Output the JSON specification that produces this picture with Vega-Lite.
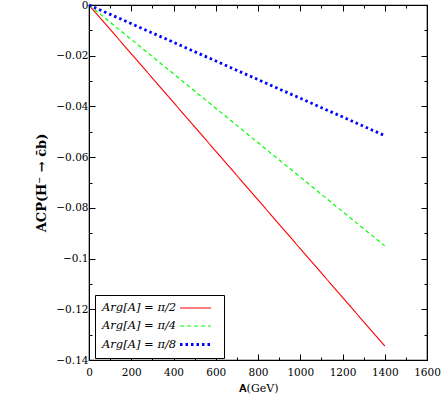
{
  "$schema": "https://vega.github.io/schema/vega-lite/v6.json",
  "width": 338,
  "height": 355,
  "autosize": "none",
  "padding": {"left": 89, "top": 5, "right": 16, "bottom": 36},
  "background": "white",
  "config": {
    "view": {"stroke": "black", "strokeWidth": 1.2},
    "font": "DejaVu Serif"
  },
  "data": {
    "values": [
      {"A": 0, "Acp": 0, "s": "Arg[A] = π/2"},
      {"A": 1400, "Acp": -0.1345, "s": "Arg[A] = π/2"},
      {"A": 0, "Acp": 0, "s": "Arg[A] = π/4"},
      {"A": 1400, "Acp": -0.095, "s": "Arg[A] = π/4"},
      {"A": 0, "Acp": 0, "s": "Arg[A] = π/8"},
      {"A": 1400, "Acp": -0.0515, "s": "Arg[A] = π/8"}
    ]
  },
  "layer": [
    {
      "mark": {"type": "line", "strokeCap": "butt"},
      "encoding": {
        "x": {
          "field": "A", "type": "quantitative",
          "scale": {"domain": [0, 1600], "nice": false, "zero": false},
          "axis": {
            "orient": "bottom",
            "values": [0,100,200,300,400,500,600,700,800,900,1000,1100,1200,1300,1400,1500,1600],
            "format": "d",
            "labelExpr": "datum.value % 200 === 0 ? datum.label : ''",
            "tickSize": {"condition": {"test": "datum.value % 200 === 0", "value": -6}, "value": -3},
            "grid": false,
            "domainColor": "black", "tickColor": "black", "tickWidth": 1,
            "labelFont": "DejaVu Serif", "labelFontSize": 10.5, "labelColor": "black",
            "labelPadding": 13, "labelFlush": false, "labelOverlap": false,
            "title": "𝐀(GeV)",
            "titleFont": "DejaVu Serif", "titleFontWeight": "normal", "titleFontSize": 11,
            "titleColor": "black", "titlePadding": 2
          }
        },
        "y": {
          "field": "Acp", "type": "quantitative",
          "scale": {"domain": [-0.14, 0], "nice": false, "zero": false},
          "axis": {
            "orient": "left",
            "values": [-0.14,-0.13,-0.12,-0.11,-0.1,-0.09,-0.08,-0.07,-0.06,-0.05,-0.04,-0.03,-0.02,-0.01,0],
            "format": ".2~f",
            "labelExpr": "abs(round(datum.value*100)) % 2 === 0 ? datum.label : ''",
            "tickSize": {"condition": {"test": "abs(round(datum.value*100)) % 2 === 0", "value": -6}, "value": -3},
            "grid": false,
            "domainColor": "black", "tickColor": "black", "tickWidth": 1,
            "labelFont": "DejaVu Serif", "labelFontSize": 10.5, "labelColor": "black",
            "labelPadding": 7, "labelFlush": false, "labelOverlap": false,
            "title": "ACP(H⁻ → c̄b)",
            "titleFont": "DejaVu Serif", "titleFontWeight": "bold", "titleFontSize": 13,
            "titleColor": "black", "titlePadding": 7
          }
        },
        "color": {
          "field": "s", "type": "ordinal",
          "scale": {"domain": ["Arg[A] = π/2", "Arg[A] = π/4", "Arg[A] = π/8"], "range": ["#ff0000", "#00ff00", "#0000ff"]},
          "legend": {
            "orient": "none", "legendX": 6, "legendY": 290,
            "title": null,
            "strokeColor": "black", "fillColor": "white", "padding": 7,
            "symbolType": "M-3.1,0H3.1", "symbolSize": 100, "symbolOffset": 87,
            "labelOffset": -100,
            "labelFont": "DejaVu Serif", "labelFontStyle": "italic", "labelFontSize": 11.5,
            "labelColor": "black", "rowPadding": 6
          }
        },
        "strokeDash": {
          "field": "s", "type": "ordinal",
          "scale": {"domain": ["Arg[A] = π/2", "Arg[A] = π/4", "Arg[A] = π/8"], "range": [[1, 0], [4, 3], [2.5, 3]]}
        },
        "strokeWidth": {
          "field": "s", "type": "ordinal",
          "scale": {"type": "ordinal", "domain": ["Arg[A] = π/2", "Arg[A] = π/4", "Arg[A] = π/8"], "range": [1.1, 1.2, 2.8]}
        }
      }
    },
    {
      "mark": {"type": "line", "opacity": 0},
      "encoding": {
        "x": {
          "field": "A", "type": "quantitative",
          "axis": {
            "orient": "top",
            "values": [0,100,200,300,400,500,600,700,800,900,1000,1100,1200,1300,1400,1500,1600],
            "labels": false, "title": null, "grid": false,
            "tickSize": {"condition": {"test": "datum.value % 200 === 0", "value": -6}, "value": -3},
            "domainColor": "black", "tickColor": "black", "tickWidth": 1
          }
        },
        "y": {
          "field": "Acp", "type": "quantitative",
          "axis": {
            "orient": "right",
            "values": [-0.14,-0.13,-0.12,-0.11,-0.1,-0.09,-0.08,-0.07,-0.06,-0.05,-0.04,-0.03,-0.02,-0.01,0],
            "labels": false, "title": null, "grid": false,
            "tickSize": {"condition": {"test": "abs(round(datum.value*100)) % 2 === 0", "value": -6}, "value": -3},
            "domainColor": "black", "tickColor": "black", "tickWidth": 1
          }
        }
      }
    }
  ],
  "resolve": {"axis": {"x": "independent", "y": "independent"}}
}
